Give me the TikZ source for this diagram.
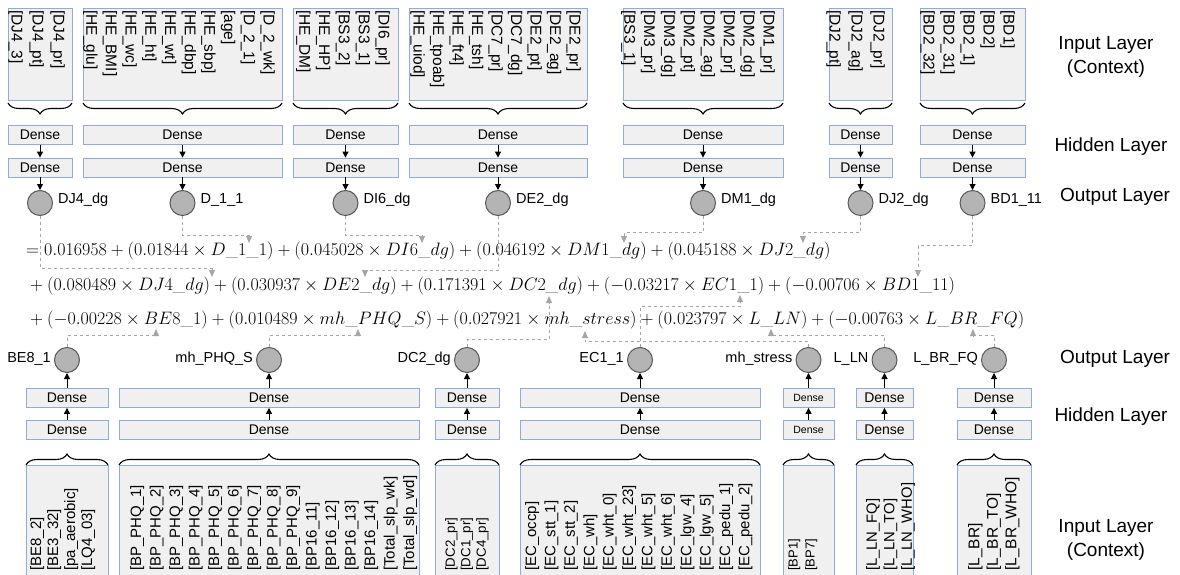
\RequirePackage{fix-cm}
\documentclass[tikz,border=0pt]{standalone}
\usepackage{fontspec}
\setsansfont{Liberation Sans}
\usepackage{tikz}
\usetikzlibrary{arrows.meta, positioning, calc, decorations.pathreplacing}
\definecolor{boxblue}{RGB}{143, 170, 220}
\definecolor{boxfill}{RGB}{240, 240, 240}
\definecolor{nodegray}{RGB}{180, 180, 180}
\definecolor{rimgray}{RGB}{89, 89, 89}
\definecolor{linkgray}{RGB}{166, 166, 166}

\begin{document}
\begin{tikzpicture}[x=1pt, y=-1pt,
  every node/.style={font=\sffamily},
  inbox/.style={draw=boxblue, fill=boxfill, line width=0.8pt, inner sep=0pt},
  dense/.style={draw=boxblue, fill=boxfill, line width=0.8pt, inner sep=0pt,
                minimum height=19pt},
  outnode/.style={circle, draw=rimgray, fill=nodegray, line width=1pt,
                  minimum size=25pt, inner sep=0pt},
  outlbl/.style={font=\sffamily\fontsize{14.5}{16}\selectfont, inner sep=0pt},
  feat/.style={align=left, inner sep=0pt, anchor=north west},
  layer/.style={font=\sffamily\fontsize{19}{24}\selectfont, align=center},
  flow/.style={-{Triangle[length=6pt, width=6pt]}, line width=1pt},
  brc/.style={decorate, decoration={brace, amplitude=11pt}, line width=1.1pt},
  link/.style={linkgray, dashed, line width=1pt, -{Triangle[length=7pt, width=6pt]}},
  eqn/.style={anchor=west, inner sep=0pt, font=\rmfamily\fontsize{18}{20}\selectfont}]

  \useasboundingbox (0,0) rectangle (1180,575);

  % ---------- Upper branches ----------
  \foreach \i/\xl/\xr/\tx/\sp/\items/\out in {
    1/8/72/65/21/{[DJ4\_pr]\\{}[DJ4\_pt]\\{}[DJ4\_3]}/{DJ4\_dg},
    2/83/282/275/19.7/{[D\_2\_wk]\\{}[D\_2\_1]\\{}[age]\\{}[HE\_sbp]\\{}[HE\_dbp]\\{}[HE\_wt]\\{}[HE\_ht]\\{}[HE\_wc]\\{}[HE\_BMI]\\{}[HE\_glu]}/{D\_1\_1},
    3/293/398/390/19.8/{[DI6\_pr]\\{}[BS3\_1]\\{}[BS3\_2]\\{}[HE\_HP]\\{}[HE\_DM]}/{DI6\_dg},
    4/409/587/581/19.5/{[DE2\_pr]\\{}[DE2\_ag]\\{}[DE2\_pt]\\{}[DC7\_dg]\\{}[DC7\_pr]\\{}[HE\_tsh]\\{}[HE\_ft4]\\{}[HE\_tpoab]\\{}[HE\_uiod]}/{DE2\_dg},
    5/623/783/775/19.9/{[DM1\_pr]\\{}[DM2\_dg]\\{}[DM2\_pr]\\{}[DM2\_ag]\\{}[DM2\_pt]\\{}[DM3\_dg]\\{}[DM3\_pr]\\{}[BS3\_1]}/{DM1\_dg},
    6/829/892/885/22/{[DJ2\_pr]\\{}[DJ2\_ag]\\{}[DJ2\_pt]}/{DJ2\_dg},
    7/920/1025/1015/20/{[BD1]\\{}[BD2]\\{}[BD2\_1]\\{}[BD2\_31]\\{}[BD2\_32]}/{BD1\_11}}{
    \pgfmathsetmacro{\xc}{(\xl+\xr)/2}
    \node[inbox, minimum width=\xr pt-\xl pt, minimum height=92pt] (inT\i) at (\xc,54) {};
    \node[feat, rotate=-90, font=\sffamily\fontsize{15.5}{\sp}\selectfont] (ftT\i) at (\tx,10) {\items};
    \draw[brc] (\xr,103) -- (\xl,103);
    \node[dense, minimum width=\xr pt-\xl pt, font=\sffamily\fontsize{14}{16}\selectfont] (hAT\i) at (\xc,135) {Dense};
    \node[dense, minimum width=\xr pt-\xl pt, font=\sffamily\fontsize{14}{16}\selectfont] (hBT\i) at (\xc,167.5) {Dense};
    \node[outnode] (oT\i) at (\xc,203) {};
    \node[outlbl, right=5pt of oT\i, yshift=3pt] (oTl\i) {\out};
    \draw[flow] (hAT\i) -- (hBT\i);
    \draw[flow] (hBT\i) -- (oT\i);
  }

  % ---------- Lower branches ----------
  \foreach \i/\xl/\xr/\tx/\sp/\fs/\dfs/\items/\out in {
    1/26/108/30/17/15/14/{[BE8\_2]\\{}[BE3\_32]\\{}[pa\_aerobic]\\{}[LQ4\_03]}/{BE8\_1},
    2/119/419/130/19.5/15/14/{[BP\_PHQ\_1]\\{}[BP\_PHQ\_2]\\{}[BP\_PHQ\_3]\\{}[BP\_PHQ\_4]\\{}[BP\_PHQ\_5]\\{}[BP\_PHQ\_6]\\{}[BP\_PHQ\_7]\\{}[BP\_PHQ\_8]\\{}[BP\_PHQ\_9]\\{}[BP16\_11]\\{}[BP16\_12]\\{}[BP16\_13]\\{}[BP16\_14]\\{}[Total\_slp\_wk]\\{}[Total\_slp\_wd]}/{mh\_PHQ\_S},
    3/435/499/445/15.5/13.3/14/{[DC2\_pr]\\{}[DC1\_pr]\\{}[DC4\_pr]}/{DC2\_dg},
    4/520/760/525/19.4/15/14/{[EC\_occp]\\{}[EC\_stt\_1]\\{}[EC\_stt\_2]\\{}[EC\_wh]\\{}[EC\_wht\_0]\\{}[EC\_wht\_23]\\{}[EC\_wht\_5]\\{}[EC\_wht\_6]\\{}[EC\_lgw\_4]\\{}[EC\_lgw\_5]\\{}[EC\_pedu\_1]\\{}[EC\_pedu\_2]}/{EC1\_1},
    5/783/834/788/17/13/10.5/{[BP1]\\{}[BP7]}/{mh\_stress},
    6/856/913/866/17.5/14.8/14/{[L\_LN\_FQ]\\{}[L\_LN\_TO]\\{}[L\_LN\_WHO]}/{L\_LN},
    7/957/1031/968/18.5/15.5/14/{[L\_BR]\\{}[L\_BR\_TO]\\{}[L\_BR\_WHO]}/{L\_BR\_FQ}}{
    \pgfmathsetmacro{\xc}{(\xl+\xr)/2}
    \node[inbox, minimum width=\xr pt-\xl pt, minimum height=120pt] (inB\i) at (\xc,525) {};
    \node[feat, rotate=90, font=\sffamily\fontsize{\fs}{\sp}\selectfont] (ftB\i) at (\tx,571) {\items};
    \draw[brc] (\xl,465) -- (\xr,465);
    \node[dense, minimum width=\xr pt-\xl pt, font=\sffamily\fontsize{\dfs}{16}\selectfont] (hAB\i) at (\xc,398) {Dense};
    \node[dense, minimum width=\xr pt-\xl pt, font=\sffamily\fontsize{\dfs}{16}\selectfont] (hBB\i) at (\xc,430) {Dense};
    \node[outnode] (oB\i) at (\xc,360) {};
    \node[outlbl, left=3pt of oB\i, yshift=1pt] (oBl\i) {\out};
    \draw[flow] (hBB\i) -- (hAB\i);
    \draw[flow] (hAB\i) -- (oB\i);
  }

  % ---------- Layer names ----------
  \node[layer] (lyInT) at (1106,57) {Input Layer\\(Context)};
  \node[layer] (lyHT) at (1111,147) {Hidden Layer};
  \node[layer] (lyOT) at (1115,197) {Output Layer};
  \node[layer] (lyOB) at (1115,359) {Output Layer};
  \node[layer] (lyHB) at (1111,417) {Hidden Layer};
  \node[layer] (lyInB) at (1106,540) {Input Layer\\(Context)};

  % ---------- Equation ----------
  \node[eqn] (eqA) at (26,251) {$= 0.016958 + (0.01844 \times D\_1\_1) + (0.045028 \times DI6\_dg) + (0.046192 \times DM1\_dg) + (0.045188 \times DJ2\_dg)$};
  \node[eqn] (eqB) at (26,286) {${} + (0.080489 \times DJ4\_dg) + (0.030937 \times DE2\_dg) + (0.171391 \times DC2\_dg) + (-0.03217 \times EC1\_1) + (-0.00706 \times BD1\_11)$};
  \node[eqn] (eqC) at (26,320) {${} + (-0.00228 \times BE8\_1) + (0.010489 \times mh\_PHQ\_S) + (0.027921 \times mh\_stress) + (0.023797 \times L\_LN) + (-0.00763 \times L\_BR\_FQ)$};

  \coordinate (tDJ4) at (212,277);
  \coordinate (tD11) at (249,243);
  \coordinate (tDI6) at (422,243);
  \coordinate (tDE2) at (365,277);
  \coordinate (tDM1) at (624,243);
  \coordinate (tDJ2) at (803,243);
  \coordinate (tBD1) at (918,277);
  \coordinate (tBE8) at (156,329);
  \coordinate (tPHQ) at (358,329);
  \coordinate (tDC2) at (549,296);
  \coordinate (tEC1) at (740,295);
  \coordinate (tMHS) at (585,331);
  \coordinate (tLLN) at (771,329);
  \coordinate (tLBR) at (973,329);

  \draw[link] (oT1.south) -- ++(0,52.5) -| (tDJ4);
  \draw[link] (oT2.south) -- ++(0,19.5) -| (tD11);
  \draw[link] (oT3.south) -- ++(0,19.5) -| (tDI6);
  \draw[link] (oT4.south) -- ++(0,54.5) -| (tDE2);
  \draw[link] (oT5.south) -- ++(0,16.5) -| (tDM1);
  \draw[link] (oT6.south) -- ++(0,16.5) -| (tDJ2);
  \draw[link] (oT7.south) -- ++(0,29.5) -| (tBD1);
  \draw[link] (oB1.north) -- ++(0,-11.5) -| (tBE8);
  \draw[link] (oB2.north) -- ++(0,-11.5) -| (tPHQ);
  \draw[link] (oB3.north) -- ++(0,-7.5) -| (tDC2);
  \draw[link] (oB4.north) -- ++(0,-40.5) -| (tEC1);
  \draw[link] (oB5.north) -- ++(0,-5.5) -| (tMHS);
  \draw[link] (oB6.north) -- ++(0,-11.5) -| (tLLN);
  \draw[link] (oB7.north) -- ++(0,-11.5) -| (tLBR);
\end{tikzpicture}
\end{document}
